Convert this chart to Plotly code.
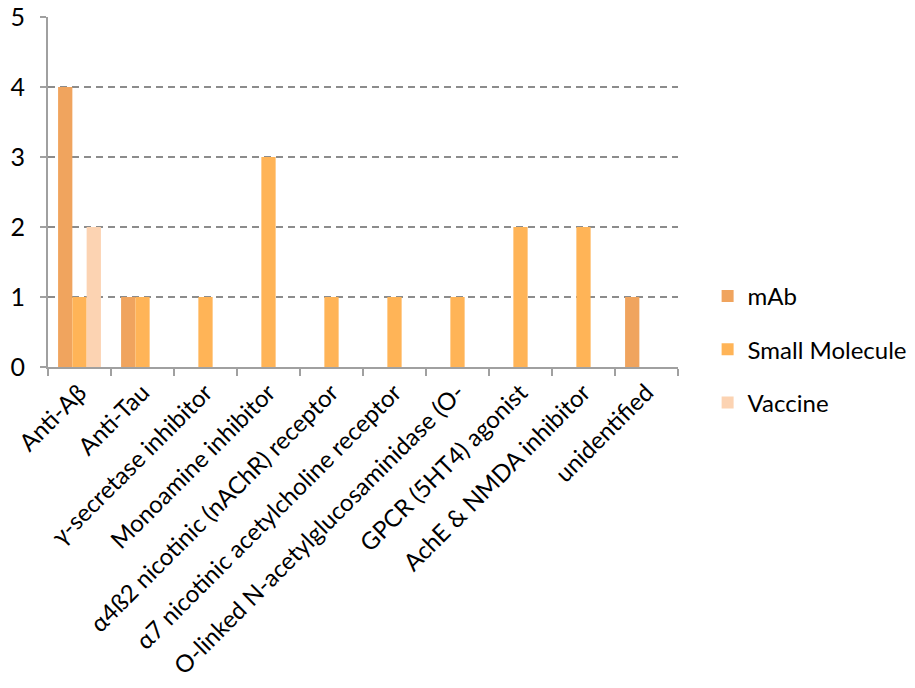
import plotly.graph_objects as go

categories = [
    "Anti-Aβ",
    "Anti-Tau",
    "γ-secretase inhibitor",
    "Monoamine inhibitor",
    "α4ß2 nicotinic (nAChR) receptor",
    "α7 nicotinic acetylcholine receptor",
    "O-linked N-acetylglucosaminidase (O-",
    "GPCR (5HT4) agonist",
    "AchE & NMDA inhibitor",
    "unidentified",
]
mab = [4, 1, None, None, None, None, None, None, None, 1]
small_molecule = [1, 1, 1, 3, 1, 1, 1, 2, 2, None]
vaccine = [2, None, None, None, None, None, None, None, None, None]

series = [
    ("mAb", mab, "#F0A45E"),
    ("Small Molecule", small_molecule, "#FFB457"),
    ("Vaccine", vaccine, "#FCD3B2"),
]

fig = go.Figure()
for i, (name, vals, color) in enumerate(series):
    fig.add_trace(go.Bar(
        x=categories, y=vals, name=name,
        marker=dict(color=color, line=dict(width=0)),
        legendgroup=name,
    ))

font_family = "Lato, Open Sans, Liberation Sans, sans-serif"
fig.update_layout(
    width=915, height=688,
    margin=dict(l=48, r=237, t=17, b=321, autoexpand=False),
    paper_bgcolor="white", plot_bgcolor="white",
    barmode="group", bargap=0.32, bargroupgap=0,
    font=dict(family=font_family, size=24, color="black"),
    showlegend=True,
    legend=dict(x=1.047, xanchor="left", y=0.05, yanchor="middle",
                font=dict(size=24), tracegroupgap=19,
                itemwidth=30, bgcolor="rgba(0,0,0,0)"),
    xaxis=dict(
        type="category", tickangle=-45, tickson="boundaries",
        ticks="outside", ticklen=7, tickcolor="#A0A0A0", tickwidth=2,
        showline=True, linecolor="#A0A0A0", linewidth=2,
        showgrid=False, tickfont=dict(size=24), automargin=False,
    ),
    yaxis=dict(
        range=[0, 5.002], dtick=1, tick0=0,
        ticks="outside", ticklen=6, tickcolor="#A0A0A0", tickwidth=2,
        showline=True, linecolor="#A0A0A0", linewidth=2,
        showgrid=True, gridcolor="#8C8C8C", gridwidth=1.5, griddash="7px,5px",
        zeroline=False, tickfont=dict(size=25), automargin=False,
        ticklabelstandoff=10,
    ),
)

fig.write_html("out.html")
